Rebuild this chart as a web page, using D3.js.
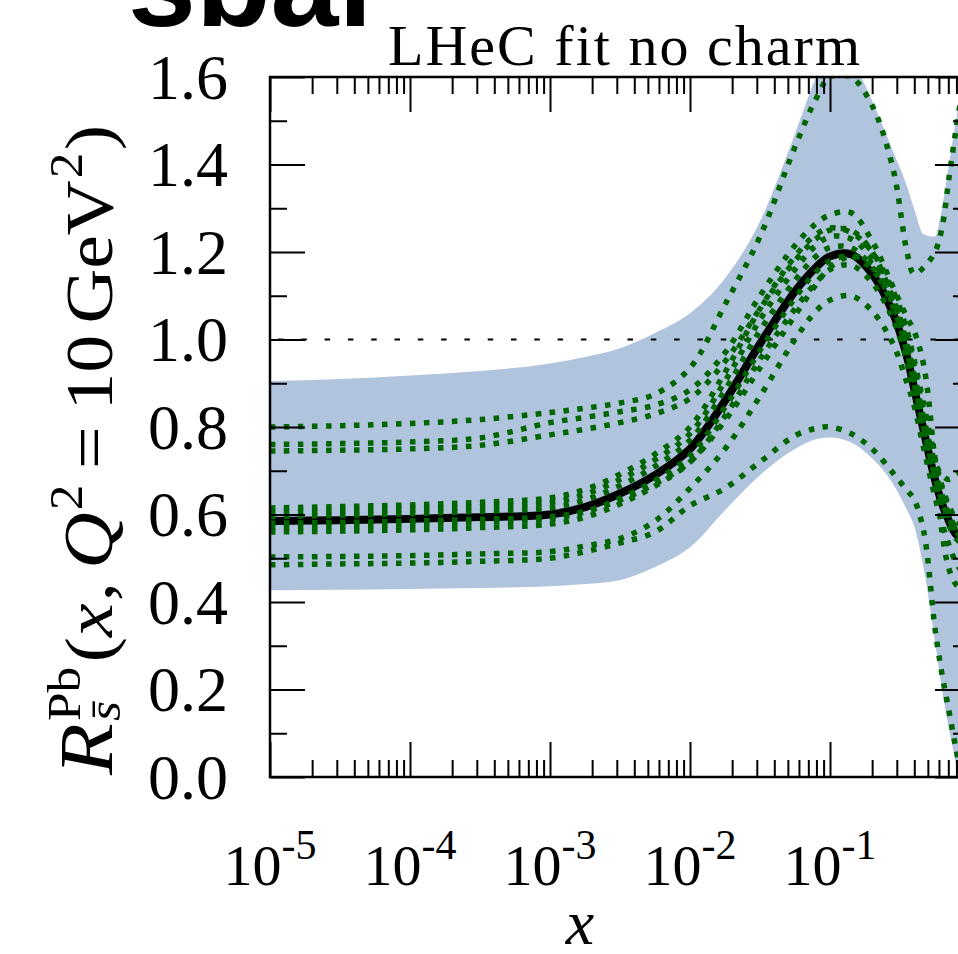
<!DOCTYPE html>
<html><head><meta charset="utf-8">
<script src="https://cdn.jsdelivr.net/npm/d3@7"></script>
<style>body{margin:0;background:#fff;overflow:hidden}</style>
</head><body>
<svg id="c" width="958" height="954"></svg>
<script>
// ---------- data ----------
const xs = [1e-5, 3.16e-5, 1e-4, 3.16e-4, 1e-3, 1.78e-3, 3.16e-3, 5.62e-3, 1e-2, 1.78e-2, 3.16e-2, 5.62e-2, 7.94e-2, 0.1, 0.141, 0.2, 0.282, 0.355, 0.398, 0.468, 0.562, 0.631, 0.708, 0.794, 0.871];
const bandUpper = [0.905, 0.91, 0.918, 0.928, 0.945, 0.96, 0.98, 1.015, 1.06, 1.14, 1.27, 1.47, 1.60, 1.67, 1.64, 1.545, 1.43, 1.35, 1.30, 1.24, 1.235, 1.30, 1.40, 1.50, 1.58];
const bandLower = [0.427, 0.428, 0.43, 0.432, 0.436, 0.441, 0.45, 0.48, 0.525, 0.61, 0.69, 0.75, 0.772, 0.776, 0.765, 0.728, 0.67, 0.61, 0.575, 0.475, 0.31, 0.2, 0.11, 0.03, -0.04];
const central = [0.585, 0.587, 0.59, 0.594, 0.60, 0.617, 0.648, 0.69, 0.75, 0.86, 0.99, 1.11, 1.165, 1.19, 1.195, 1.15, 1.06, 0.96, 0.89, 0.79, 0.68, 0.625, 0.585, 0.555, 0.545];
const rep1 = [0.80, 0.803, 0.808, 0.817, 0.833, 0.843, 0.855, 0.875, 0.935, 1.08, 1.235, 1.44, 1.55, 1.60, 1.60, 1.535, 1.39, 1.20, 1.15, 1.165, 1.20, 1.255, 1.37, 1.48, 1.56];
const rep2 = [0.76, 0.762, 0.766, 0.775, 0.81, 0.822, 0.835, 0.85, 0.885, 0.97, 1.10, 1.215, 1.265, 1.285, 1.29, 1.225, 1.12, 1.05, 1.02, 0.94, 0.72, 0.56, 0.475, 0.44, 0.43];
const rep3 = [0.745, 0.747, 0.75, 0.758, 0.782, 0.795, 0.81, 0.83, 0.865, 0.95, 1.07, 1.18, 1.23, 1.25, 1.25, 1.20, 1.09, 0.98, 0.92, 0.82, 0.72, 0.69, 0.68, 0.69, 0.70];
const rep4 = [0.503, 0.504, 0.506, 0.51, 0.515, 0.528, 0.545, 0.585, 0.66, 0.75, 0.87, 1.0, 1.065, 1.09, 1.10, 1.065, 0.99, 0.90, 0.85, 0.75, 0.64, 0.58, 0.53, 0.49, 0.47];
const rep5 = [0.485, 0.487, 0.489, 0.493, 0.50, 0.515, 0.535, 0.56, 0.62, 0.66, 0.72, 0.78, 0.797, 0.80, 0.785, 0.75, 0.695, 0.655, 0.635, 0.56, 0.34, 0.235, 0.15, 0.065, 0.0];
const rep6 = [0.56, 0.562, 0.565, 0.57, 0.578, 0.594, 0.624, 0.665, 0.72, 0.825, 0.955, 1.07, 1.13, 1.16, 1.17, 1.13, 1.045, 0.95, 0.88, 0.78, 0.67, 0.615, 0.575, 0.545, 0.535];
const rep7 = [0.57, 0.573, 0.577, 0.582, 0.59, 0.606, 0.637, 0.678, 0.735, 0.845, 0.975, 1.095, 1.155, 1.18, 1.19, 1.16, 1.08, 0.98, 0.91, 0.805, 0.69, 0.635, 0.595, 0.565, 0.555];
const rep8 = [0.595, 0.598, 0.602, 0.607, 0.615, 0.633, 0.666, 0.71, 0.77, 0.885, 1.02, 1.135, 1.19, 1.21, 1.21, 1.165, 1.075, 0.97, 0.90, 0.795, 0.685, 0.63, 0.59, 0.56, 0.55];
const rep9 = [0.605, 0.608, 0.612, 0.618, 0.627, 0.646, 0.68, 0.725, 0.785, 0.905, 1.045, 1.16, 1.215, 1.235, 1.23, 1.185, 1.095, 0.99, 0.92, 0.815, 0.705, 0.645, 0.60, 0.57, 0.56];
const rep10 = [0.615, 0.618, 0.622, 0.628, 0.638, 0.657, 0.692, 0.738, 0.80, 0.925, 1.07, 1.19, 1.24, 1.255, 1.245, 1.2, 1.11, 1.01, 0.94, 0.835, 0.72, 0.66, 0.615, 0.585, 0.575];
const rep11 = [0.58, 0.582, 0.585, 0.589, 0.595, 0.607, 0.633, 0.67, 0.72, 0.815, 0.935, 1.055, 1.125, 1.165, 1.19, 1.175, 1.11, 1.02, 0.955, 0.85, 0.73, 0.665, 0.62, 0.59, 0.58];
const replicas = [rep1, rep2, rep3, rep4, rep5, rep6, rep7, rep8, rep9, rep10, rep11];
const yTicks = [0, 0.2, 0.4, 0.6, 0.8, 1.0, 1.2, 1.4, 1.6];
const yTickLabels = ["0.0", "0.2", "0.4", "0.6", "0.8", "1.0", "1.2", "1.4", "1.6"];
const xTickExps = [-5, -4, -3, -2, -1];
const titleText = "sbar";
const subtitleText = "LHeC fit no charm";

// ---------- setup ----------
const serif = "'Liberation Serif', 'DejaVu Serif', serif";
const svg = d3.select("#c");
const L = 270, R = 970, T = 77, B = 777;
const x = d3.scaleLog().domain([1e-5, 1]).range([L, R]);
const y = d3.scaleLinear().domain([0, 1.6]).range([B, T]);

svg.append("defs").append("clipPath").attr("id", "clip")
  .append("rect").attr("x", L).attr("y", T).attr("width", R - L).attr("height", B - T);
const plot = svg.append("g").attr("clip-path", "url(#clip)");

// band
const bandData = xs.map((v, i) => ({x: v, lo: bandLower[i], hi: bandUpper[i]}));
plot.append("path").datum(bandData)
  .attr("fill", "#b0c4de")
  .attr("d", d3.area().x(d => x(d.x)).y0(d => y(d.lo)).y1(d => y(d.hi)).curve(d3.curveMonotoneX));

// reference line at 1
plot.append("line").attr("x1", L).attr("x2", R).attr("y1", y(1)).attr("y2", y(1))
  .attr("stroke", "#000").attr("stroke-width", 2.2).attr("stroke-dasharray", "5.5,17.8")
  .attr("stroke-dashoffset", -8);

const line = d3.line().x(d => x(d.x)).y(d => y(d.v)).curve(d3.curveCatmullRom.alpha(0.5));
// central
plot.append("path").datum(xs.map((v, i) => ({x: v, v: central[i]})))
  .attr("fill", "none").attr("stroke", "#000").attr("stroke-width", 8).attr("d", line);
// replicas
replicas.forEach(r => {
  plot.append("path").datum(xs.map((v, i) => ({x: v, v: r[i]})))
    .attr("fill", "none").attr("stroke", "#006400").attr("stroke-width", 5.5)
    .attr("stroke-dasharray", "5.5,8.5").attr("d", line);
});

// ---------- axes ----------
const xMajor = [1e-5, 1e-4, 1e-3, 1e-2, 1e-1, 1];
const xMinor = [];
for (let e = -5; e <= -1; e++) for (let k = 2; k <= 9; k++) xMinor.push(k * Math.pow(10, e));
const yMinor = d3.range(0.1, 1.6, 0.2);

function styleAxis(g) {
  g.select(".domain").remove();
  g.selectAll(".tick line").attr("stroke", "#000").attr("stroke-width", 2);
  g.selectAll(".tick text").remove();
}
svg.append("g").attr("transform", `translate(0,${B})`).call(d3.axisBottom(x).tickValues(xMajor).tickSize(-35)).call(styleAxis);
svg.append("g").attr("transform", `translate(0,${B})`).call(d3.axisBottom(x).tickValues(xMinor).tickSize(-17)).call(styleAxis);
svg.append("g").attr("transform", `translate(0,${T})`).call(d3.axisTop(x).tickValues(xMajor).tickSize(-35)).call(styleAxis);
svg.append("g").attr("transform", `translate(0,${T})`).call(d3.axisTop(x).tickValues(xMinor).tickSize(-17)).call(styleAxis);
svg.append("g").attr("transform", `translate(${L},0)`).call(d3.axisLeft(y).tickValues(yTicks).tickSize(-35)).call(styleAxis);
svg.append("g").attr("transform", `translate(${L},0)`).call(d3.axisLeft(y).tickValues(yMinor).tickSize(-17)).call(styleAxis);
svg.append("g").attr("transform", `translate(${R},0)`).call(d3.axisRight(y).tickValues(yTicks).tickSize(-35)).call(styleAxis);
svg.append("g").attr("transform", `translate(${R},0)`).call(d3.axisRight(y).tickValues(yMinor).tickSize(-17)).call(styleAxis);

svg.append("rect").attr("x", L).attr("y", T).attr("width", R - L).attr("height", B - T)
  .attr("fill", "none").attr("stroke", "#000").attr("stroke-width", 2.5);

// y tick labels
yTicks.forEach((v, i) => {
  svg.append("text").attr("x", 228).attr("y", y(v)).attr("dy", "0.34em")
    .attr("text-anchor", "end").style("font-family", serif).style("font-size", "64px")
    .text(yTickLabels[i]);
});
// x tick labels
xTickExps.forEach(e => {
  const t = svg.append("text").attr("x", x(Math.pow(10, e))).attr("y", 885)
    .attr("text-anchor", "middle").style("font-family", serif);
  t.append("tspan").style("font-size", "58px").text("10");
  t.append("tspan").style("font-size", "42px").attr("dy", -26).text("-" + Math.abs(e));
});

// x axis title
svg.append("text").attr("x", 580).attr("y", 944).attr("text-anchor", "middle")
  .style("font-family", serif).style("font-style", "italic").style("font-size", "64px").text("x");

// title and subtitle
svg.append("text").attr("x", 128).attr("y", 26)
  .attr("textLength", 258).attr("lengthAdjust", "spacingAndGlyphs")
  .style("font-family", "'Liberation Sans', Arial, sans-serif").style("font-weight", "bold")
  .style("font-size", "122px").text(titleText);
svg.append("text").attr("x", 624).attr("y", 65).attr("text-anchor", "middle")
  .attr("textLength", 472).attr("lengthAdjust", "spacing")
  .style("font-family", serif).style("font-size", "58px").text(subtitleText);

// y axis title (rotated, built piece by piece)
const yl = svg.append("g").attr("transform", "translate(112,450) rotate(-90)");
const inner = yl.append("g");
let cx = 0;
function piece(txt, size, dy, italic, gapAfter, noAdvance) {
  const t = inner.append("text").attr("x", cx).attr("y", dy)
    .style("font-family", serif).style("font-size", size + "px")
    .style("font-style", italic ? "italic" : "normal").text(txt);
  const w = t.node().getComputedTextLength();
  if (!noAdvance) cx += w + (gapAfter || 0);
  return w;
}
piece("R", 76, 0, true, 2);
const start = cx;
const wPb = piece("Pb", 46, -32, false, 0, true);
const wS = piece("s\u0304", 46, 8, true, 0, true);
cx = start + Math.max(wPb, wS) + 4;
piece("(", 68, 0, false, 0);
piece("x", 68, 0, true, 2);
piece(",", 68, 0, false, 12);
piece("Q", 70, 0, true, 2);
piece("2", 46, -30, false, 14);
piece("=", 68, 0, false, 14);
piece("10", 68, 0, false, 10);
piece("GeV", 68, 0, false, 2);
piece("2", 46, -30, false, 2);
piece(")", 68, 0, false, 0);
const target = 650;
inner.attr("transform", `scale(${target / cx},1) translate(${-cx / 2},0)`);
</script>
</body></html>
